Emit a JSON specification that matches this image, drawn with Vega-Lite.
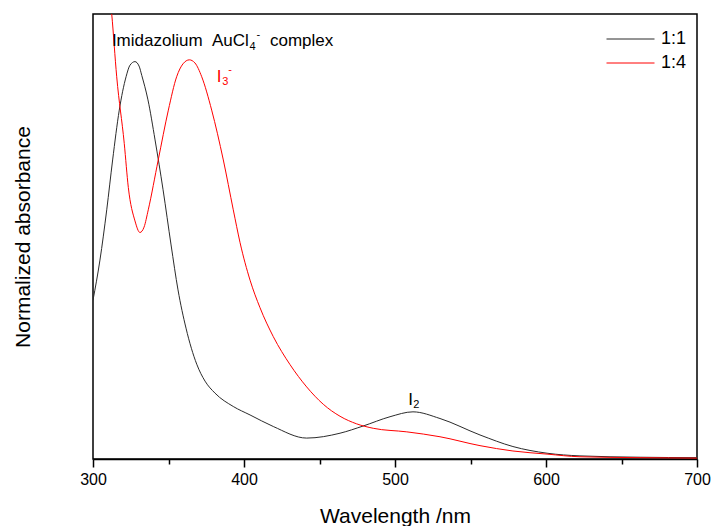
{
  "$schema": "https://vega.github.io/schema/vega-lite/v6.json",
  "width": 604,
  "height": 445,
  "autosize": {"type": "none"},
  "padding": {"left": 93, "top": 14, "right": 15, "bottom": 67},
  "config": {
    "font": "Liberation Sans",
    "view": {"stroke": "black", "strokeWidth": 1.5},
    "axis": {"grid": false, "labelFont": "Liberation Sans", "titleFont": "Liberation Sans"}
  },
  "datasets": {
    "spectra": [
      {"wavelength": 300.0, "absorbance": 0.357, "ratio": "1:1"},
      {"wavelength": 304.6, "absorbance": 0.447, "ratio": "1:1"},
      {"wavelength": 309.1, "absorbance": 0.560, "ratio": "1:1"},
      {"wavelength": 313.0, "absorbance": 0.672, "ratio": "1:1"},
      {"wavelength": 317.4, "absorbance": 0.784, "ratio": "1:1"},
      {"wavelength": 321.9, "absorbance": 0.859, "ratio": "1:1"},
      {"wavelength": 324.5, "absorbance": 0.885, "ratio": "1:1"},
      {"wavelength": 327.8, "absorbance": 0.893, "ratio": "1:1"},
      {"wavelength": 330.5, "absorbance": 0.883, "ratio": "1:1"},
      {"wavelength": 332.3, "absorbance": 0.862, "ratio": "1:1"},
      {"wavelength": 336.4, "absorbance": 0.807, "ratio": "1:1"},
      {"wavelength": 341.1, "absorbance": 0.717, "ratio": "1:1"},
      {"wavelength": 346.4, "absorbance": 0.605, "ratio": "1:1"},
      {"wavelength": 351.7, "absorbance": 0.481, "ratio": "1:1"},
      {"wavelength": 356.3, "absorbance": 0.380, "ratio": "1:1"},
      {"wavelength": 361.6, "absorbance": 0.294, "ratio": "1:1"},
      {"wavelength": 368.7, "absorbance": 0.213, "ratio": "1:1"},
      {"wavelength": 374.2, "absorbance": 0.175, "ratio": "1:1"},
      {"wavelength": 380.8, "absorbance": 0.148, "ratio": "1:1"},
      {"wavelength": 392.9, "absorbance": 0.118, "ratio": "1:1"},
      {"wavelength": 404.0, "absorbance": 0.099, "ratio": "1:1"},
      {"wavelength": 419.4, "absorbance": 0.073, "ratio": "1:1"},
      {"wavelength": 441.5, "absorbance": 0.047, "ratio": "1:1"},
      {"wavelength": 463.6, "absorbance": 0.058, "ratio": "1:1"},
      {"wavelength": 478.8, "absorbance": 0.074, "ratio": "1:1"},
      {"wavelength": 496.7, "absorbance": 0.095, "ratio": "1:1"},
      {"wavelength": 511.9, "absorbance": 0.106, "ratio": "1:1"},
      {"wavelength": 529.8, "absorbance": 0.091, "ratio": "1:1"},
      {"wavelength": 556.3, "absorbance": 0.054, "ratio": "1:1"},
      {"wavelength": 578.1, "absorbance": 0.028, "ratio": "1:1"},
      {"wavelength": 600.7, "absorbance": 0.013, "ratio": "1:1"},
      {"wavelength": 622.5, "absorbance": 0.007, "ratio": "1:1"},
      {"wavelength": 662.3, "absorbance": 0.004, "ratio": "1:1"},
      {"wavelength": 700.0, "absorbance": 0.003, "ratio": "1:1"},
      {"wavelength": 308.6, "absorbance": 1.121, "ratio": "1:4"},
      {"wavelength": 312.4, "absorbance": 1.000, "ratio": "1:4"},
      {"wavelength": 315.7, "absorbance": 0.859, "ratio": "1:4"},
      {"wavelength": 320.7, "absorbance": 0.709, "ratio": "1:4"},
      {"wavelength": 323.4, "absorbance": 0.610, "ratio": "1:4"},
      {"wavelength": 327.8, "absorbance": 0.535, "ratio": "1:4"},
      {"wavelength": 331.1, "absorbance": 0.509, "ratio": "1:4"},
      {"wavelength": 333.8, "absorbance": 0.521, "ratio": "1:4"},
      {"wavelength": 336.6, "absorbance": 0.560, "ratio": "1:4"},
      {"wavelength": 343.2, "absorbance": 0.672, "ratio": "1:4"},
      {"wavelength": 349.9, "absorbance": 0.784, "ratio": "1:4"},
      {"wavelength": 355.4, "absorbance": 0.859, "ratio": "1:4"},
      {"wavelength": 359.6, "absorbance": 0.888, "ratio": "1:4"},
      {"wavelength": 363.8, "absorbance": 0.897, "ratio": "1:4"},
      {"wavelength": 367.5, "absorbance": 0.890, "ratio": "1:4"},
      {"wavelength": 372.0, "absorbance": 0.859, "ratio": "1:4"},
      {"wavelength": 378.6, "absorbance": 0.784, "ratio": "1:4"},
      {"wavelength": 386.3, "absorbance": 0.672, "ratio": "1:4"},
      {"wavelength": 392.9, "absorbance": 0.560, "ratio": "1:4"},
      {"wavelength": 397.4, "absorbance": 0.486, "ratio": "1:4"},
      {"wavelength": 404.0, "absorbance": 0.402, "ratio": "1:4"},
      {"wavelength": 410.6, "absorbance": 0.340, "ratio": "1:4"},
      {"wavelength": 419.4, "absorbance": 0.275, "ratio": "1:4"},
      {"wavelength": 430.5, "absorbance": 0.212, "ratio": "1:4"},
      {"wavelength": 441.5, "absorbance": 0.162, "ratio": "1:4"},
      {"wavelength": 452.5, "absorbance": 0.123, "ratio": "1:4"},
      {"wavelength": 463.6, "absorbance": 0.096, "ratio": "1:4"},
      {"wavelength": 474.6, "absorbance": 0.079, "ratio": "1:4"},
      {"wavelength": 485.6, "absorbance": 0.069, "ratio": "1:4"},
      {"wavelength": 507.8, "absorbance": 0.061, "ratio": "1:4"},
      {"wavelength": 529.8, "absorbance": 0.050, "ratio": "1:4"},
      {"wavelength": 556.3, "absorbance": 0.030, "ratio": "1:4"},
      {"wavelength": 578.1, "absorbance": 0.018, "ratio": "1:4"},
      {"wavelength": 600.7, "absorbance": 0.011, "ratio": "1:4"},
      {"wavelength": 622.5, "absorbance": 0.005, "ratio": "1:4"},
      {"wavelength": 662.3, "absorbance": 0.003, "ratio": "1:4"},
      {"wavelength": 700.0, "absorbance": 0.002, "ratio": "1:4"}
    ]
  },
  "resolve": {"axis": {"x": "independent"}},
  "layer": [
    {
      "data": {"name": "spectra"},
      "mark": {"type": "line", "clip": true, "strokeWidth": 1, "interpolate": "monotone"},
      "encoding": {
        "x": {
          "field": "wavelength", "type": "quantitative",
          "scale": {"domain": [300, 700], "nice": false, "zero": false},
          "axis": {
            "orient": "bottom",
            "values": [300, 400, 500, 600, 700],
            "tickSize": 8, "tickWidth": 1.5, "tickColor": "black",
            "domainColor": "black", "domainWidth": 1.5,
            "labelFontSize": 16, "labelColor": "black", "labelPadding": 4, "labelFlush": false,
            "title": "Wavelength /nm", "titleFontSize": 21, "titleFontWeight": "normal",
            "titleColor": "black", "titleBaseline": "alphabetic", "titleY": 63
          }
        },
        "y": {
          "field": "absorbance", "type": "quantitative",
          "scale": {"domain": [0, 1], "nice": false},
          "axis": {
            "labels": false, "ticks": false, "domain": false,
            "title": "Normalized absorbance", "titleFontSize": 21, "titleFontWeight": "normal",
            "titleColor": "black", "titleBaseline": "alphabetic", "titleX": -64, "titleY": 222.5
          }
        },
        "color": {
          "field": "ratio", "type": "nominal",
          "scale": {"domain": ["1:1", "1:4"], "range": ["#2b2b2b", "#ff0000"]},
          "legend": {
            "orient": "none", "legendX": 513, "legendY": 15, "title": null,
            "symbolType": "stroke", "symbolSize": 2304, "symbolStrokeWidth": 1,
            "labelFontSize": 18, "labelColor": "black", "labelOffset": 6,
            "padding": 0, "clipHeight": 20, "rowPadding": 4
          }
        }
      }
    },
    {
      "data": {"values": [
        {"wavelength": 312.5, "absorbance": 0.927, "label": "Imidazolium\u00a0\u00a0AuCl"},
        {"wavelength": 417.2, "absorbance": 0.927, "label": "complex"},
        {"wavelength": 508.8, "absorbance": 0.121, "label": "I"}
      ]},
      "mark": {"type": "text", "align": "left", "baseline": "alphabetic", "fontSize": 17, "color": "black"},
      "encoding": {
        "x": {
          "field": "wavelength", "type": "quantitative",
          "axis": {
            "orient": "bottom", "values": [350, 450, 550, 650],
            "tickSize": 5, "tickWidth": 1.5, "tickColor": "black",
            "labels": false, "domain": false, "title": null
          }
        },
        "y": {"field": "absorbance", "type": "quantitative"},
        "text": {"field": "label"}
      }
    },
    {
      "data": {"values": [
        {"wavelength": 403.6, "absorbance": 0.919, "label": "4"},
        {"wavelength": 408.2, "absorbance": 0.945, "label": "-"},
        {"wavelength": 512.1, "absorbance": 0.114, "label": "2"}
      ]},
      "mark": {"type": "text", "align": "left", "baseline": "alphabetic", "fontSize": 11, "color": "black"},
      "encoding": {
        "x": {"field": "wavelength", "type": "quantitative", "axis": null},
        "y": {"field": "absorbance", "type": "quantitative"},
        "text": {"field": "label"}
      }
    },
    {
      "data": {"values": [{"wavelength": 382.0, "absorbance": 0.848, "label": "I"}]},
      "mark": {"type": "text", "align": "left", "baseline": "alphabetic", "fontSize": 17, "color": "#ff0000"},
      "encoding": {
        "x": {"field": "wavelength", "type": "quantitative", "axis": null},
        "y": {"field": "absorbance", "type": "quantitative"},
        "text": {"field": "label"}
      }
    },
    {
      "data": {"values": [
        {"wavelength": 385.6, "absorbance": 0.840, "label": "3"},
        {"wavelength": 389.6, "absorbance": 0.867, "label": "-"}
      ]},
      "mark": {"type": "text", "align": "left", "baseline": "alphabetic", "fontSize": 11, "color": "#ff0000"},
      "encoding": {
        "x": {"field": "wavelength", "type": "quantitative", "axis": null},
        "y": {"field": "absorbance", "type": "quantitative"},
        "text": {"field": "label"}
      }
    }
  ]
}
